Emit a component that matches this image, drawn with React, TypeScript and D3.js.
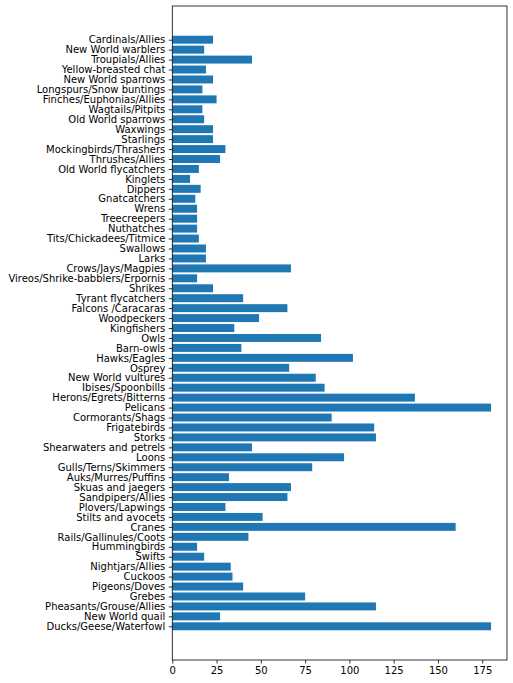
import * as d3 from "d3";
import { useRef, useEffect } from "react";

// bottom to top, as plotted
const families = [
  "Ducks/Geese/Waterfowl",
  "New World quail",
  "Pheasants/Grouse/Allies",
  "Grebes",
  "Pigeons/Doves",
  "Cuckoos",
  "Nightjars/Allies",
  "Swifts",
  "Hummingbirds",
  "Rails/Gallinules/Coots",
  "Cranes",
  "Stilts and avocets",
  "Plovers/Lapwings",
  "Sandpipers/Allies",
  "Skuas and jaegers",
  "Auks/Murres/Puffins",
  "Gulls/Terns/Skimmers",
  "Loons",
  "Shearwaters and petrels",
  "Storks",
  "Frigatebirds",
  "Cormorants/Shags",
  "Pelicans",
  "Herons/Egrets/Bitterns",
  "Ibises/Spoonbills",
  "New World vultures",
  "Osprey",
  "Hawks/Eagles",
  "Barn-owls",
  "Owls",
  "Kingfishers",
  "Woodpeckers",
  "Falcons /Caracaras",
  "Tyrant flycatchers",
  "Shrikes",
  "Vireos/Shrike-babblers/Erpornis",
  "Crows/Jays/Magpies",
  "Larks",
  "Swallows",
  "Tits/Chickadees/Titmice",
  "Nuthatches",
  "Treecreepers",
  "Wrens",
  "Gnatcatchers",
  "Dippers",
  "Kinglets",
  "Old World flycatchers",
  "Thrushes/Allies",
  "Mockingbirds/Thrashers",
  "Starlings",
  "Waxwings",
  "Old World sparrows",
  "Wagtails/Pitpits",
  "Finches/Euphonias/Allies",
  "Longspurs/Snow buntings",
  "New World sparrows",
  "Yellow-breasted chat",
  "Troupials/Allies",
  "New World warblers",
  "Cardinals/Allies",
];

const counts = [
  180, 27, 115, 75, 40, 34, 33, 18, 14, 43,
  160, 51, 30, 65, 67, 32, 79, 97, 45, 115,
  114, 90, 180, 137, 86, 81, 66, 102, 39, 84,
  35, 49, 65, 40, 23, 14, 67, 19, 19, 15,
  14, 14, 14, 13, 16, 10, 15, 27, 30, 23,
  23, 18, 17, 25, 17, 23, 19, 45, 18, 23,
];

const xTicks = [0, 25, 50, 75, 100, 125, 150, 175];

export default function App({
  width = 513,
  height = 683,
  marginTop = 6,
  marginRight = 6,
  marginBottom = 23,
  marginLeft = 172.3,
}) {
  const ref = useRef<SVGSVGElement | null>(null);

  useEffect(() => {
    const svg = d3.select(ref.current);
    svg.selectAll("*").remove();

    const n = families.length;
    const xMax = (d3.max(counts) || 0) * 1.05;
    const x = d3
      .scaleLinear()
      .domain([0, xMax])
      .range([marginLeft, width - marginRight]);

    // matplotlib-style limits: bars span [-0.4, n-0.6] plus 5% margins
    const lo = -0.4;
    const hi = n - 1 + 0.4;
    const pad = (hi - lo) * 0.05;
    const y = d3
      .scaleLinear()
      .domain([lo - pad, hi + pad])
      .range([height - marginBottom, marginTop]);
    const bandH = Math.abs(y(0.8) - y(0));

    svg
      .append("g")
      .attr("fill", "#1f77b4")
      .selectAll("rect")
      .data(counts)
      .join("rect")
      .attr("x", x(0))
      .attr("y", (_, i) => y(i + 0.4))
      .attr("width", (d) => x(d) - x(0))
      .attr("height", bandH);

    const font = "'DejaVu Sans', sans-serif";

    // y axis
    const yAxis = svg
      .append("g")
      .attr("transform", `translate(${marginLeft},0)`)
      .call(
        d3
          .axisLeft(y)
          .tickValues(d3.range(n))
          .tickFormat((i) => families[+i])
          .tickSize(3.5)
          .tickPadding(3.5)
          .tickSizeOuter(0),
      );
    yAxis.select(".domain").remove();
    yAxis
      .selectAll("text")
      .attr("font-family", font)
      .attr("font-size", 10)
      .attr("fill", "#000");
    yAxis.selectAll("line").attr("stroke", "#000").attr("stroke-width", 0.8);

    // x axis
    const xAxis = svg
      .append("g")
      .attr("transform", `translate(0,${height - marginBottom})`)
      .call(
        d3
          .axisBottom(x)
          .tickValues(xTicks)
          .tickSize(3.5)
          .tickPadding(3.5)
          .tickSizeOuter(0),
      );
    xAxis.select(".domain").remove();
    xAxis
      .selectAll("text")
      .attr("font-family", font)
      .attr("font-size", 10)
      .attr("fill", "#000");
    xAxis.selectAll("line").attr("stroke", "#000").attr("stroke-width", 0.8);

    // frame
    svg
      .append("rect")
      .attr("x", marginLeft)
      .attr("y", marginTop)
      .attr("width", width - marginRight - marginLeft)
      .attr("height", height - marginBottom - marginTop)
      .attr("fill", "none")
      .attr("stroke", "#000")
      .attr("stroke-width", 0.8);
  }, [width, height, marginTop, marginRight, marginBottom, marginLeft]);

  return (
    <svg
      ref={ref}
      width={width}
      height={height}
      style={{ position: "absolute", left: 0, top: 0, background: "#fff" }}
    />
  );
}
